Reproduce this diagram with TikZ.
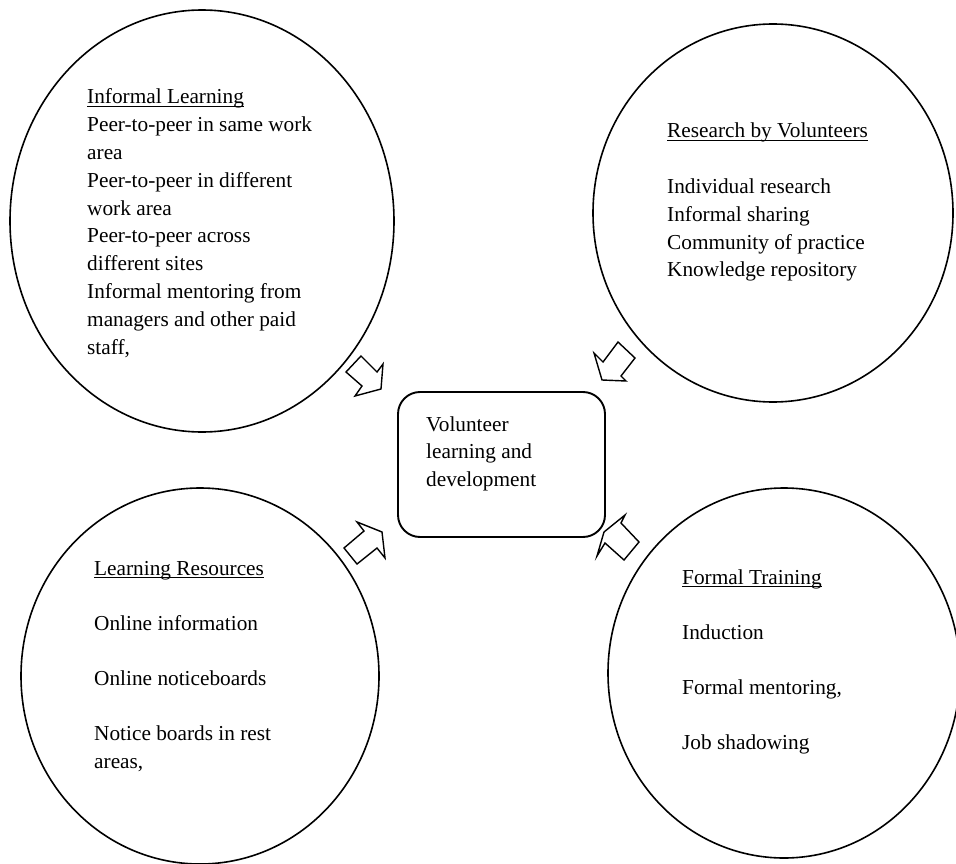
\documentclass[tikz,border=0pt]{standalone}
\usepackage{fontspec}
\setmainfont{Liberation Serif}
\usetikzlibrary{shapes.geometric}
\newcommand\myul[1]{\leavevmode\setbox0\hbox{#1}\rlap{\rule[-3pt]{\wd0}{1.1pt}}\box0}
\tikzset{
  circ/.style={ellipse, draw, line width=1.6pt, inner sep=0pt},
  hub/.style={draw, rounded corners=22pt, line width=1.9pt, inner sep=0pt},
  blk/.style={draw, line width=1.4pt, line join=miter, fill=white},
  txt/.style={inner sep=0pt, anchor=base west, font=\fontsize{21.3}{27.8}\selectfont},
}
\begin{document}
\begin{tikzpicture}[x=1pt,y=-1pt]
\useasboundingbox (0,0) rectangle (956,864);
% ellipses
\node[circ, minimum width=384pt, minimum height=422pt] (il) at (202,221) {};
\node[circ, minimum width=360pt, minimum height=378pt] (rv) at (773,213) {};
\node[circ, minimum width=358pt, minimum height=376pt] (lr) at (200,676) {};
\node[circ, minimum width=352pt, minimum height=370pt] (ft) at (784,673) {};
% central box
\node[hub, minimum width=207pt, minimum height=145pt] (hub) at (501.5,464.5) {};
\node[txt] (hubtxt) at (426,431) {\parbox[t]{170pt}{\raggedright Volunteer\\ learning and\\ development}};
% texts
\node[txt] (iltxt) at (87,104) {\parbox[t]{290pt}{\raggedright \myul{Informal Learning}\\
Peer-to-peer in same work\\ area\\ Peer-to-peer in different\\ work area\\
Peer-to-peer across\\ different sites\\ Informal mentoring from\\
managers and other paid\\ staff,}};
\node[txt] (rvtxt) at (667,138) {\parbox[t]{280pt}{\raggedright \myul{Research by Volunteers}\\[27.8pt]
Individual research\\ Informal sharing\\ Community of practice\\ Knowledge repository}};
\node[txt] (lrtxt) at (94,575) {\parbox[t]{280pt}{\raggedright \myul{Learning Resources}\\[27.5pt]
Online information\\[27.5pt] Online noticeboards\\[27.5pt] Notice boards in rest\\ areas,}};
\node[txt] (fttxt) at (682,584) {\parbox[t]{260pt}{\raggedright \myul{Formal Training}\\[27.5pt]
Induction\\[27.5pt] Formal mentoring,\\[27.5pt] Job shadowing}};
% block arrows
\draw[blk] (361,356) -- (377,372) -- (383,364) -- (381,389) -- (355,396) -- (362,386) -- (346,372) -- cycle;
\draw[blk] (618,342) -- (635,358) -- (621,376) -- (626,381) -- (602,380) -- (594,353) -- (603,362) -- cycle;
\draw[blk] (344,548) -- (364,531) -- (357,522) -- (382,532) -- (385,558) -- (377,548) -- (357,564) -- cycle;
\draw[blk] (639,542) -- (621,523) -- (625,515) -- (604,532) -- (597,556) -- (605,543) -- (624,560) -- cycle;
\end{tikzpicture}
\end{document}
